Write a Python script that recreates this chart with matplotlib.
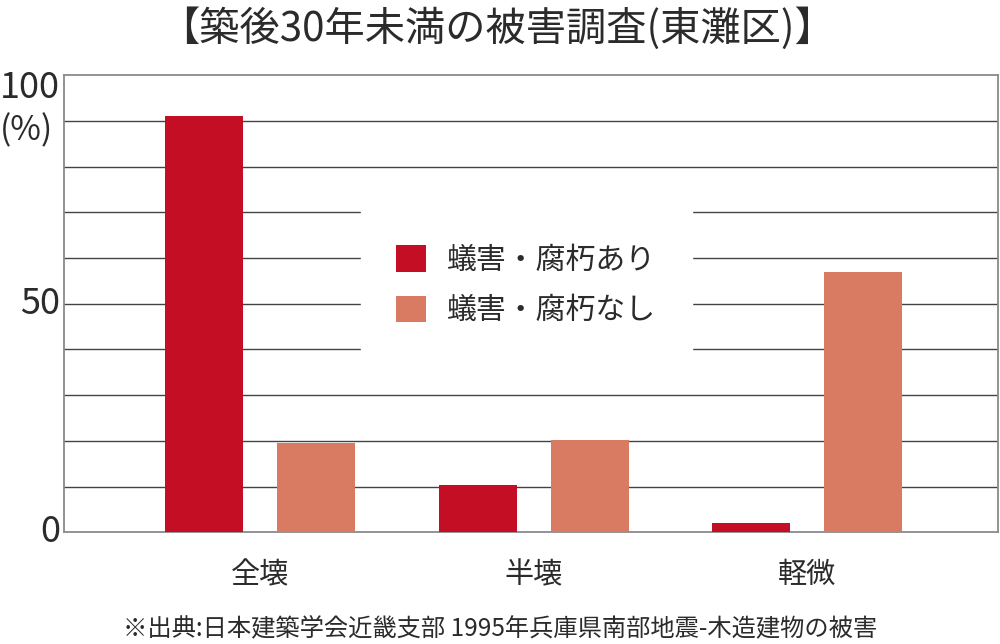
import numpy as np
import matplotlib
matplotlib.use('Agg')
import matplotlib.pyplot as plt

plt.rcParams['font.family'] = ['Noto Sans CJK JP', 'DejaVu Sans']

# data
categories = ['全壊', '半壊', '軽微']
with_damage = [91, 10.3, 2]      # 蟻害・腐朽あり
without_damage = [19.5, 20.2, 57]  # 蟻害・腐朽なし
series_names = ['蟻害・腐朽あり', '蟻害・腐朽なし']
title = '【築後30年未満の被害調査(東灘区)】'
note = '※出典:日本建築学会近畿支部 1995年兵庫県南部地震-木造建物の被害'

RED = '#C30E24'
ORANGE = '#D87B62'
TXT = '#2b2b2b'

fig = plt.figure(figsize=(10, 6.44), dpi=100)
ax = fig.add_axes([0.064, 0.1734, 0.934, 0.710])

x = np.arange(len(categories))
w = 0.285
off = 0.205
ax.bar(x - off, with_damage, w, color=RED, label=series_names[0], zorder=3)
ax.bar(x + off, without_damage, w, color=ORANGE, label=series_names[1], zorder=3)

ax.set_xlim(-0.717, 2.698)
ax.set_ylim(0, 100)

for v in range(10, 100, 10):
    ax.axhline(v, color='#444444', lw=1.0, zorder=1)

for s in ax.spines.values():
    s.set_color('#8a8a8a')
    s.set_linewidth(1.3)

ax.set_yticks([])
ax.set_xticks(x)
ax.set_xticklabels(categories, fontsize=21, color=TXT)
ax.tick_params(axis='x', length=0, pad=20)

# y labels placed like the original
ytr = ax.get_yaxis_transform()
ax.text(-0.004, 0, '0', transform=ytr, ha='right', va='center', fontsize=26, color=TXT)
ax.text(-0.004, 50, '50', transform=ytr, ha='right', va='center', fontsize=26, color=TXT)
ax.text(-0.004, 97.2, '100', transform=ytr, ha='right', va='center', fontsize=26, color=TXT)
ax.text(-0.012, 87.8, '(%)', transform=ytr, ha='right', va='center', fontsize=24, color=TXT)

leg = ax.legend(loc='center', bbox_to_anchor=(0.495, 0.540), fontsize=21.5,
                handlelength=1.0, handleheight=1.0, handletextpad=0.7,
                labelspacing=0.65, borderpad=1.2, frameon=True, fancybox=False)
leg.get_frame().set_facecolor('white')
leg.get_frame().set_edgecolor('white')
leg.get_frame().set_alpha(1)
for t in leg.get_texts():
    t.set_color(TXT)
leg.set_zorder(5)

fig.text(0.4975, 0.955, title, ha='center', va='center', fontsize=29, color=TXT)
fig.text(0.50, 0.024, note, ha='center', va='center', fontsize=17.5, color=TXT)

fig.savefig('out.png', dpi=100, facecolor='white')
